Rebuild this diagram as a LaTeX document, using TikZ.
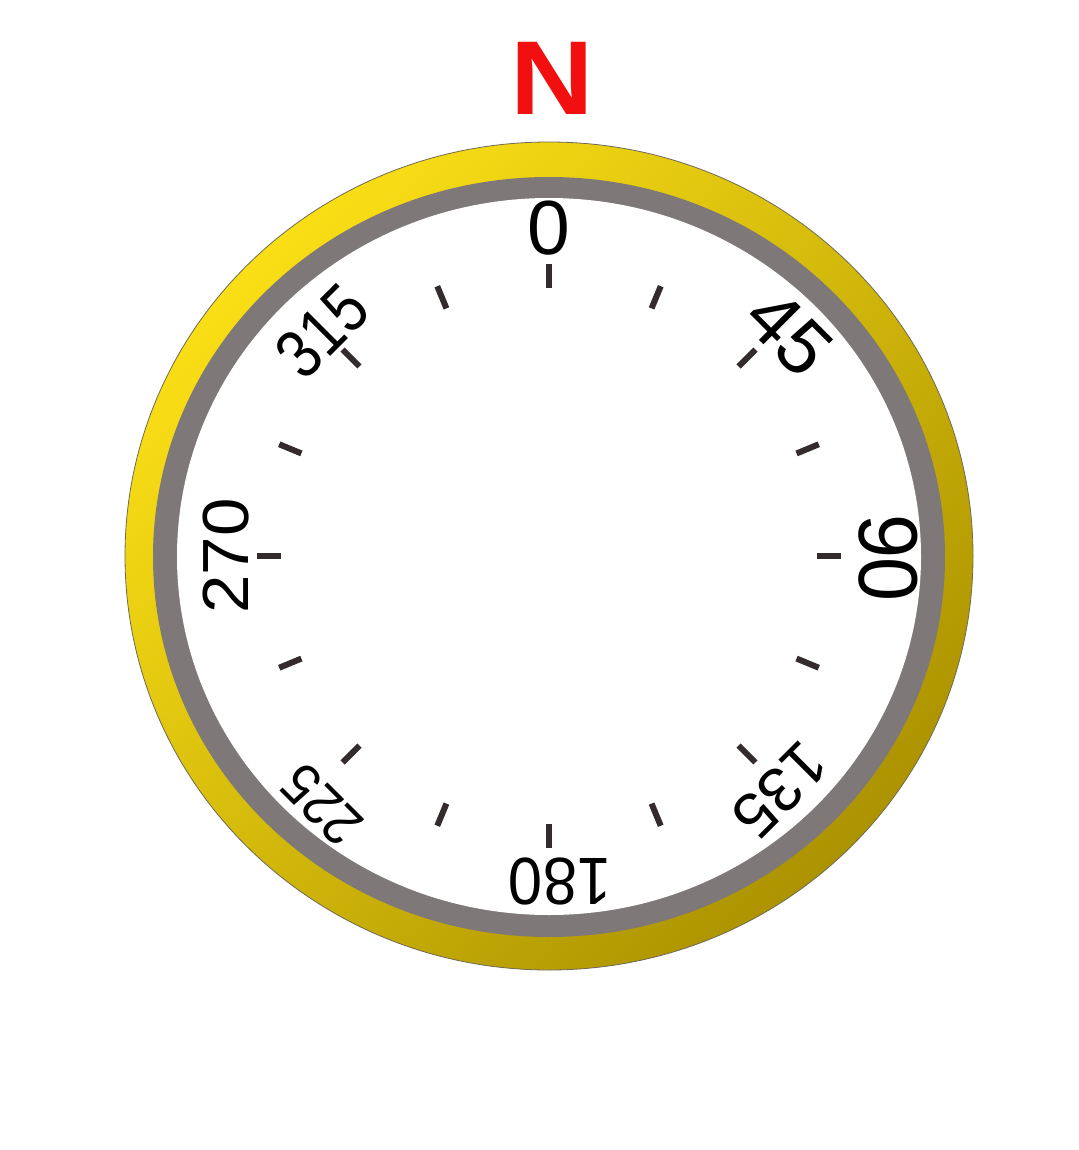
\documentclass[tikz,border=0pt]{standalone}
\usepackage{fontspec}
\setmainfont{Liberation Sans}
\usepackage{graphicx}
\definecolor{goldA}{HTML}{FADF16}
\definecolor{goldB}{HTML}{AC9300}
\definecolor{ringgray}{HTML}{7E7878}
\definecolor{rimline}{HTML}{6E6A55}
\definecolor{tickc}{HTML}{342C2C}
\definecolor{nred}{HTML}{F20F0F}
\begin{document}
\begin{tikzpicture}[x=1pt,y=-1pt,
  tickmark/.style={draw=tickc, line width=6pt},
  deglabel/.style={inner sep=0pt, font=\fontsize{76.8}{80}\selectfont}]
\useasboundingbox (0,0) rectangle (1078,1150);
\fill[white] (0,0) rectangle (1078,1150);
% bezel
\path[draw=rimline, line width=0.8pt, top color=goldA, bottom color=goldB, shading angle=45]
  (549,556) ellipse [x radius=424, y radius=414];
\fill[ringgray] (549,557) ellipse [x radius=396, y radius=380];
\fill[white] (549,556.5) ellipse [x radius=372, y radius=358.5];
% ticks
\foreach \a in {0,22.5,...,337.5}
  \draw[tickmark] ({549+268*sin(\a)},{556-268*cos(\a)}) -- ({549+292*sin(\a)},{556-292*cos(\a)});
% labels
\node[deglabel] (l0) at (549,228) {0};
\node[deglabel, rotate=-45] (l45) at (789,333) {45};
\node[deglabel, rotate=-90] (l90) at (888,558) {\scalebox{1.03}[1.09]{90}};
\node[deglabel, rotate=-135] (l135) at (780,790) {\scalebox{0.82}[0.82]{135}};
\node[deglabel, rotate=180] (l180) at (560,881) {\scalebox{0.8}[0.87]{180}};
\node[deglabel, rotate=-225] (l225) at (322,805) {\scalebox{0.68}[0.75]{225}};
\node[deglabel, rotate=-270] (l270) at (226,556) {\scalebox{0.9}[0.85]{270}};
\node[deglabel, rotate=-315] (l315) at (322,331) {\scalebox{0.76}[0.9]{315}};
% north
\node[inner sep=0pt, text=nred, font=\fontsize{105}{105}\selectfont\bfseries] (N) at (552,78) {\scalebox{1.1}[1]{N}};
\end{tikzpicture}
\end{document}
